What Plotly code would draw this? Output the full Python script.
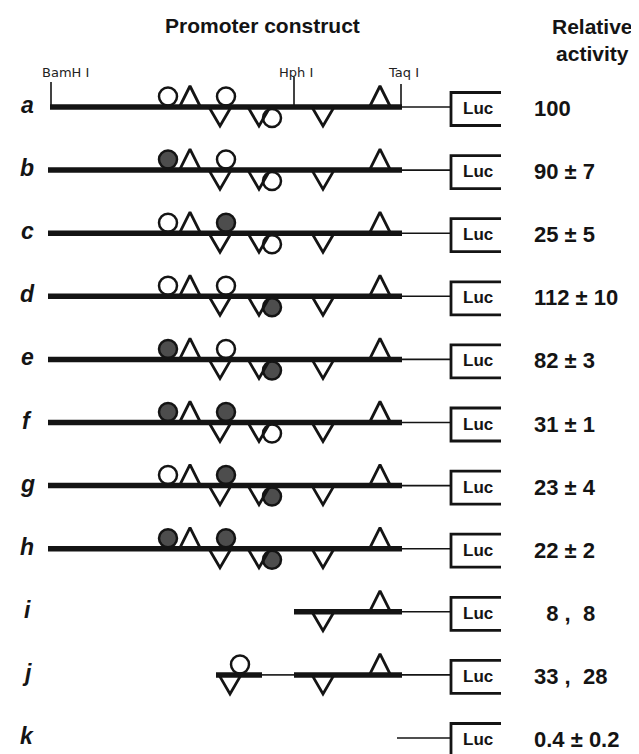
import plotly.graph_objects as go

# ---------------- data ----------------
constructs = ['a', 'b', 'c', 'd', 'e', 'f', 'g', 'h', 'i', 'j', 'k']
activity = ['100', '90 ± 7', '25 ± 5', '112 ± 10', '82 ± 3', '31 ± 1',
            '23 ± 4', '22 ± 2', '\u20078 ,\u00a0 8', '33 ,\u00a0 28', '0.4 ± 0.2']

# promoter pieces (diagram units along the construct, 5' -> 3')
thick_segments = [[(50, 402)]] + [[(48, 402)]] * 7 + [[(294, 402)], [(216, 262), (294, 402)], []]
thin_segments = [[(402, 451)]] * 8 + [[(402, 451)], [(262, 294), (402, 451)], [(397, 451)]]

# elements: upward triangles, downward triangles
up_triangles = [[190, 380]] * 8 + [[380], [380], []]
down_triangles = [[220, 259, 323]] * 8 + [[323], [230, 323], []]

# circle sites above the line (position, state) and below the line; 'o' = wild type, 'f' = mutated
circles_above = [
    [(168, 'o'), (226, 'o')],
    [(168, 'f'), (226, 'o')],
    [(168, 'o'), (226, 'f')],
    [(168, 'o'), (226, 'o')],
    [(168, 'f'), (226, 'o')],
    [(168, 'f'), (226, 'f')],
    [(168, 'o'), (226, 'f')],
    [(168, 'f'), (226, 'f')],
    [],
    [(240, 'o')],
    [],
]
circles_below = [
    [(272, 'o')], [(272, 'o')], [(272, 'o')], [(272, 'f')], [(272, 'f')],
    [(272, 'o')], [(272, 'f')], [(272, 'f')], [], [], [],
]

# restriction sites marked on construct a
site_names = ['BamH I', 'Hph I', 'Taq I']
site_pos = [51, 294, 401]

# ---------------- layout helpers ----------------
W, H = 639, 754
PAGE_OFFSET = 8          # default body margin of the html page
ROW0, ROWSTEP = 107, 63.1
INK = '#141414'
FONT = 'Liberation Sans, Arial, Helvetica, sans-serif'
LUC_X0, LUC_X1 = 451, 501

fig = go.Figure()

def add_line(xs, ys, width, color=INK):
    fig.add_trace(go.Scatter(x=xs, y=ys, mode='lines', hoverinfo='skip',
                             line=dict(color=color, width=width), showlegend=False))

row_y = [ROW0 + i * ROWSTEP for i in range(len(constructs))]

for i, y in enumerate(row_y):
    # circles above / below (drawn first so the line sits over their edge)
    for (cx, st), dy in [(c, -10.5) for c in circles_above[i]] + [(c, 11) for c in circles_below[i]]:
        fig.add_trace(go.Scatter(
            x=[cx], y=[y + dy], mode='markers', hoverinfo='skip', showlegend=False,
            marker=dict(symbol='circle', size=18,
                        color='white' if st == 'o' else '#4d4d4d',
                        line=dict(color=INK, width=2.5))))
    # thin line
    xs, ys = [], []
    for a, b in thin_segments[i]:
        xs += [a, b, None]
        ys += [y, y, None]
    if xs:
        add_line(xs, ys, 1.6)
    # thick line
    xs, ys = [], []
    for a, b in thick_segments[i]:
        xs += [a, b, None]
        ys += [y, y, None]
    if xs:
        add_line(xs, ys, 5.5)
    # triangles
    xs, ys = [], []
    for tx in up_triangles[i]:
        xs += [tx - 10, tx, tx + 10, None]
        ys += [y - 1, y - 21, y - 1, None]
    for tx in down_triangles[i]:
        xs += [tx - 10.5, tx, tx + 10.5, None]
        ys += [y + 1, y + 19, y + 1, None]
    if xs:
        add_line(xs, ys, 2.8)
    # Luc box
    add_line([LUC_X1, LUC_X0, LUC_X0, LUC_X1], [y - 14.5, y - 14.5, y + 18.5, y + 18.5], 2.8)
    fig.add_annotation(x=(LUC_X0 + LUC_X1) / 2 + 2, y=y + 1.5, text='<b>Luc</b>', showarrow=False,
                       xanchor='center', yanchor='middle',
                       font=dict(family=FONT, size=17, color=INK))
    # construct label
    fig.add_annotation(x=27, y=y - 2, text='<b><i>%s</i></b>' % constructs[i], showarrow=False,
                       xanchor='center', yanchor='middle',
                       font=dict(family=FONT, size=23, color=INK))
    # activity
    fig.add_annotation(x=532, y=y + 1.5, text='<b>%s</b>' % activity[i], showarrow=False,
                       xanchor='left', yanchor='middle',
                       font=dict(family=FONT, size=22, color=INK))

# restriction site ticks on construct a
tick_top = [82, 77, 84]
label_dx = [14, 2, 2]
for name, sx, tt, dx in zip(site_names, site_pos, tick_top, label_dx):
    add_line([sx, sx], [row_y[0], tt], 1.6)
    fig.add_annotation(x=sx + dx, y=72, text=name, showarrow=False,
                       xanchor='center', yanchor='middle',
                       font=dict(family='DejaVu Sans, sans-serif', size=13, color='#222222'))

# headers
fig.add_annotation(x=262, y=25, text='<b>Promoter construct</b>', showarrow=False,
                   xanchor='center', yanchor='middle', font=dict(family=FONT, size=21, color=INK))
fig.add_annotation(x=592, y=40, text='<b>Relative<br>activity</b>', showarrow=False,
                   xanchor='center', yanchor='middle', align='center',
                   font=dict(family=FONT, size=21, color=INK))

fig.update_layout(
    width=W - PAGE_OFFSET, height=H - PAGE_OFFSET, margin=dict(l=0, r=0, t=0, b=0),
    paper_bgcolor='white', plot_bgcolor='white',
    xaxis=dict(range=[PAGE_OFFSET, W], visible=False, fixedrange=True),
    yaxis=dict(range=[H, PAGE_OFFSET], visible=False, fixedrange=True),
)

fig.write_html('out.html')
